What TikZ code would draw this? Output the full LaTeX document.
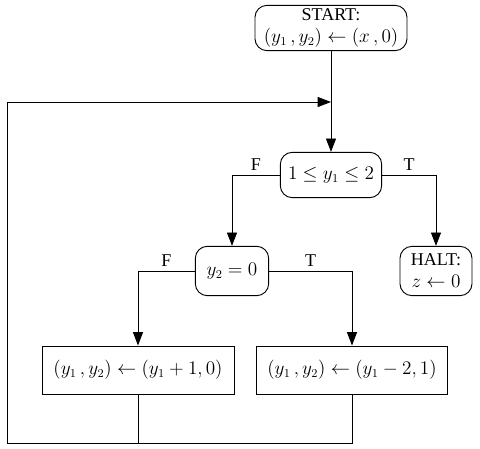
\documentclass[tikz,border=0pt]{standalone}
\usepackage{fontspec}
\setmainfont{Liberation Serif}
\usetikzlibrary{arrows.meta}
\tikzset{%
  flownode/.style = {shape=rectangle, draw, align=center,%
                     minimum height=34pt, inner sep=2pt},%
  term/.style     = {flownode, rounded corners=9pt},%
  test/.style     = {flownode, rounded corners=9pt},%
  assign/.style   = {flownode, minimum height=36pt},%
  flow/.style     = {-{Triangle[length=10pt,width=7.5pt]}},%
  branch/.style   = {above=3pt, inner sep=0pt}%
}

\begin{document}
\begin{tikzpicture}
              [x=0.75pt, y=-0.75pt, line width=0.7pt,
              every node/.style={font=\fontsize{13.5}{16.5}\selectfont}]
              \useasboundingbox (0,0) rectangle (480,449);
              % -------------- NODES --------------------------------------
              \node [term, minimum width=114pt] (start) at (331,28)
                {START:\\$(y_1\,, y_2) \leftarrow (x\,, 0)$};
              \node [test, minimum width=76pt] (range) at (331,175)
                {$1 \leq y_1 \leq 2$};
              \node [term, minimum width=54pt, minimum height=37pt] (halt) at (436,271)
                {HALT:\\$z \leftarrow 0$};
              \node [test, minimum width=55pt, minimum height=37pt] (zero) at (232,271)
                {$y_2 = 0$};
              \node [assign, minimum width=144pt] (incr) at (138,370)
                {$(y_1\,, y_2) \leftarrow (y_1 + 1, 0)$};
              \node [assign, minimum width=143pt] (decr) at (352,370)
                {$(y_1\,, y_2) \leftarrow (y_1 - 2, 1)$};
              \coordinate (entry) at (331,102);
              \coordinate (bottom) at (7,443);
              % -------------- CONNECTORS ---------------------------------
              \draw[flow] (start) -- (range);
              \draw[flow] (range.west) -| node [pos=.25, branch] {F} (zero.north);
              \draw[flow] (range.east) -| node [pos=.25, branch] {T} (halt.north);
              \draw[flow] (zero.west) -| node [pos=.25, branch] {F} (incr.north);
              \draw[flow] (zero.east) -| node [pos=.25, branch] {T} (decr.north);
              % loop back
              \draw (incr.south) -- (incr.south |- bottom);
              \draw[flow] (decr.south) |- (bottom) |- (entry);
\end{tikzpicture}
\end{document}
